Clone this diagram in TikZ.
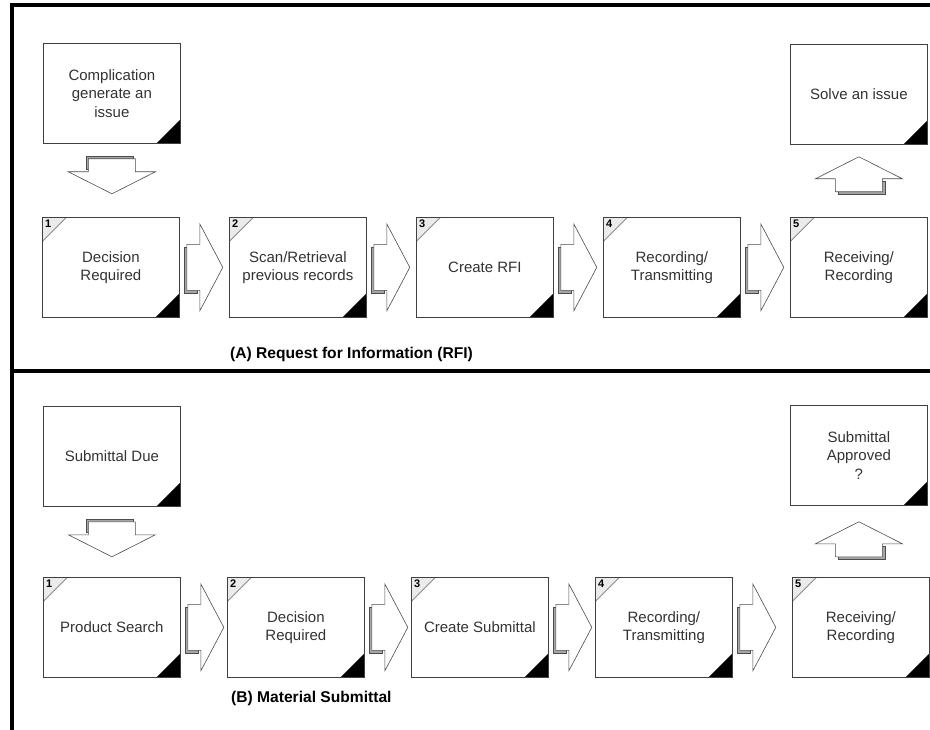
\documentclass[tikz,border=0pt]{standalone}
\usepackage{fontspec}
\setmainfont{Liberation Sans}
\usetikzlibrary{calc}

\tikzset{
  box/.style={draw=black!75,line width=.8pt,fill=white,anchor=north west,
    minimum width=137pt,minimum height=100pt,inner sep=0pt,align=center,
    text=black!80,font=\fontsize{15}{18.5}\selectfont},
  notebox/.style={box,path picture={
    \fill[black] (path picture bounding box.south east) -- ++(-24pt,0pt) -- ++(24pt,24pt) -- cycle;}},
  stepbox/.style={box,path picture={
    \fill[black] (path picture bounding box.south east) -- ++(-24pt,0pt) -- ++(24pt,24pt) -- cycle;
    \filldraw[fill=black!8,draw=black!45] (path picture bounding box.north west) -- ++(24pt,0pt) -- ++(-24pt,-24pt) -- cycle;},
    label={[anchor=north west,inner sep=3pt,text=black,font=\bfseries\fontsize{11}{11}\selectfont]north west:#1}},
  caption/.style={anchor=west,inner sep=0pt,font=\bfseries\fontsize{15.6}{15.6}\selectfont},
  shade/.style={fill=black!35,draw=black!70,line width=.6pt},
  blk/.style={fill=white,draw=black!70,line width=.6pt},
  arrowright/.pic={
    \filldraw[shade] (-2.5pt,-25.5pt) rectangle (10.5pt,20.5pt);
    \filldraw[blk] (0pt,23pt) -- (13pt,23pt) -- (13pt,43.5pt) -- (36pt,0pt)
      -- (13pt,-43.5pt) -- (13pt,-23pt) -- (0pt,-23pt) -- cycle;},
  arrowdown/.pic={
    \filldraw[shade] (-26pt,2.5pt) rectangle (21pt,-10.5pt);
    \filldraw[blk] (-23.5pt,0pt) -- (23.5pt,0pt) -- (23.5pt,-13pt) -- (43.5pt,-13pt)
      -- (0pt,-35pt) -- (-43.5pt,-13pt) -- (-23.5pt,-13pt) -- cycle;},
  arrowup/.pic={
    \filldraw[shade] (-21pt,-2.5pt) rectangle (26pt,10.5pt);
    \filldraw[blk] (-23.5pt,0pt) -- (23.5pt,0pt) -- (23.5pt,13pt) -- (43.5pt,13pt)
      -- (0pt,35pt) -- (-43.5pt,13pt) -- (-23.5pt,13pt) -- cycle;}
}

\begin{document}
\begin{tikzpicture}[x=1pt,y=-1pt]
  \useasboundingbox (0,0) rectangle (930,730);
  % frame
  \draw[line width=3.5pt] (12,730) -- (12,5) -- (930,5);
  \draw[line width=3.5pt] (12,371) -- (930,371);

  % (A) request for information
  \node[notebox] (ac) at (43,43) {Complication\\generate an\\issue};
  \node[notebox] (as) at (790,44) {Solve an issue};
  \node[stepbox=1] (a1) at (42,217) {Decision\\Required};
  \node[stepbox=2] (a2) at (229,217) {Scan/Retrieval\\previous records};
  \node[stepbox=3] (a3) at (416,217) {Create RFI};
  \node[stepbox=4] (a4) at (603,217) {Recording/\\Transmitting};
  \node[stepbox=5] (a5) at (790,217) {Receiving/\\Recording};
  \pic at ($(ac.south)+(0,15)$) {arrowdown};
  \pic at ($(as.south)+(0,47)$) {arrowup};
  \foreach \i in {1,...,4}
    \pic at ($(a\i.east)+(7,0)$) {arrowright};
  \node[caption] (acap) at (230,354) {(A) Request for Information (RFI)};

  % (B) material submittal
  \node[notebox] (bc) at (43,406) {Submittal Due};
  \node[notebox] (bs) at (790,405) {Submittal\\Approved\\?};
  \node[stepbox=1] (b1) at (43,577) {Product Search};
  \node[stepbox=2] (b2) at (227,577) {Decision\\Required};
  \node[stepbox=3] (b3) at (411,577) {Create Submittal};
  \node[stepbox=4] (b4) at (595,577) {Recording/\\Transmitting};
  \node[stepbox=5] (b5) at (792,577) {Receiving/\\Recording};
  \pic at ($(bc.south)+(0,15)$) {arrowdown};
  \pic at ($(bs.south)+(0,51)$) {arrowup};
  \foreach \i in {1,...,4}
    \pic at ($(b\i.east)+(7,0)$) {arrowright};
  \node[caption] (bcap) at (231,698) {(B) Material Submittal};
\end{tikzpicture}
\end{document}
